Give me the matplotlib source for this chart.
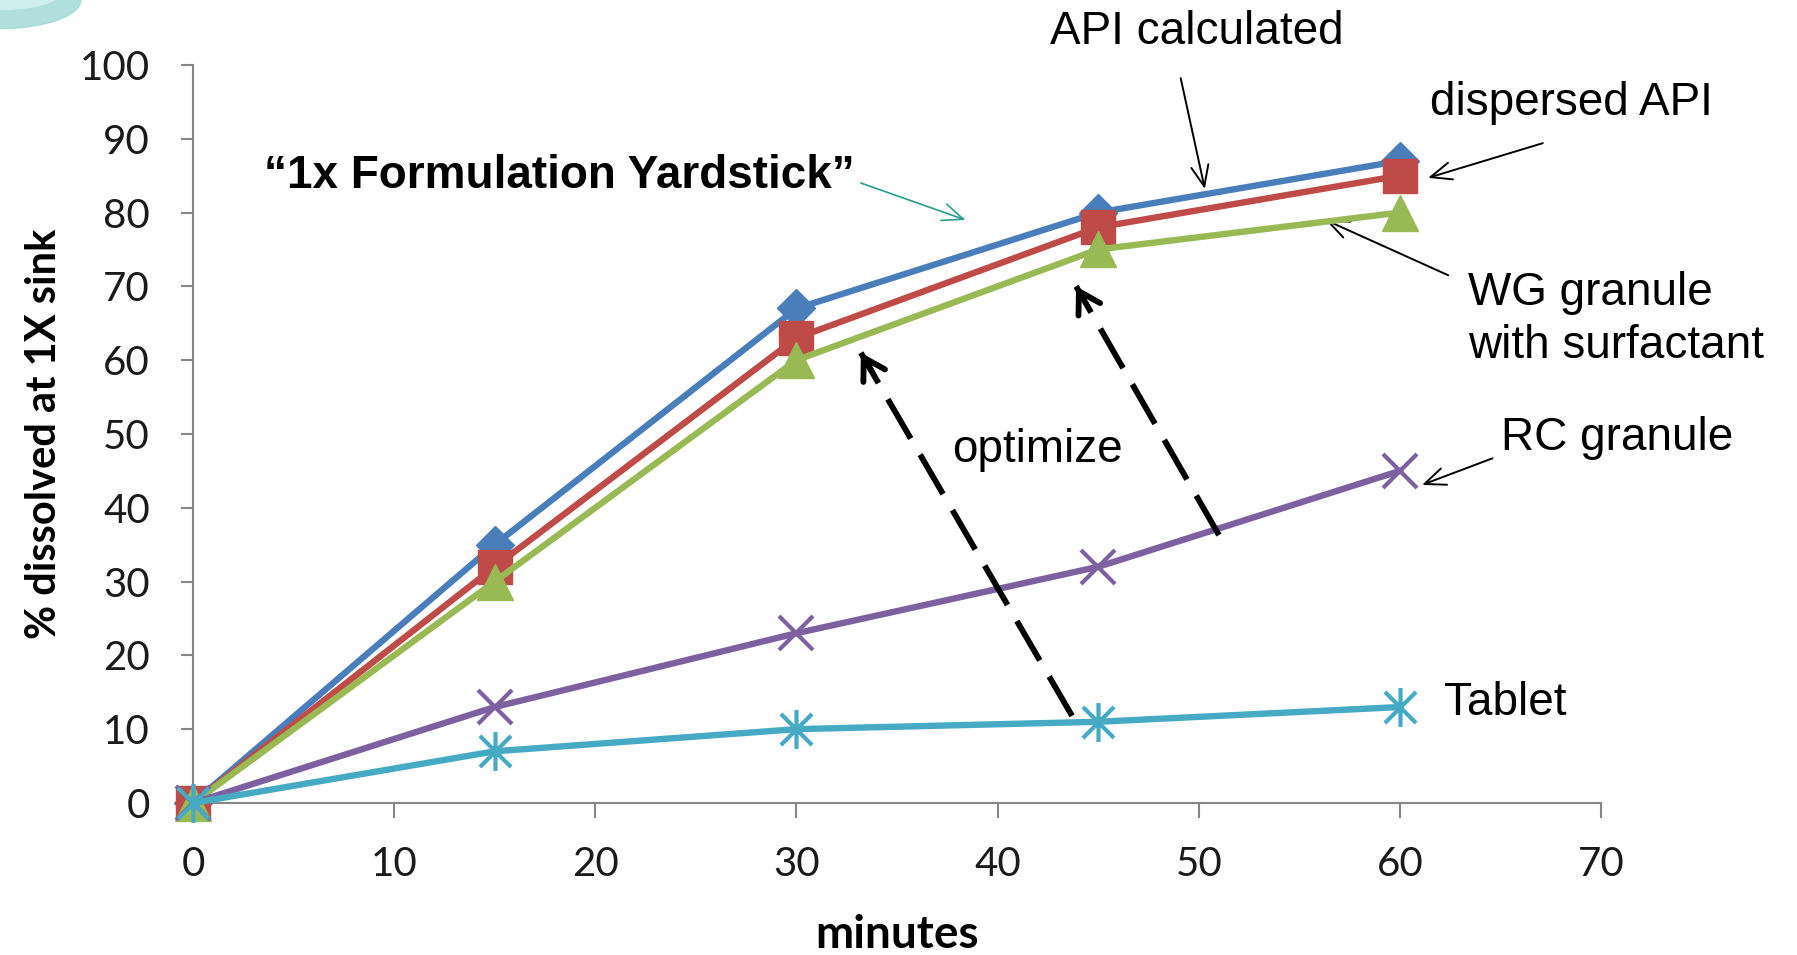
import numpy as np
import matplotlib
matplotlib.use('Agg')
import matplotlib.pyplot as plt
from matplotlib.path import Path
from matplotlib.patches import Ellipse

# dissolution data
minutes = [0, 15, 30, 45, 60]
api_calculated = [0, 35, 67, 80, 87]
dispersed_api = [0, 32, 63, 78, 85]
wg_granule = [0, 30, 60, 75, 80]
rc_granule = [0, 13, 23, 32, 45]
tablet = [0, 7, 10, 11, 13]

x_ticks = [0, 10, 20, 30, 40, 50, 60, 70]
y_ticks = [0, 10, 20, 30, 40, 50, 60, 70, 80, 90, 100]

# excel-ish "star" marker: an x with a vertical bar through it
star = Path([(-1, -1), (1, 1), (-1, 1), (1, -1), (0, -1.25), (0, 1.25)],
            [Path.MOVETO, Path.LINETO, Path.MOVETO, Path.LINETO, Path.MOVETO, Path.LINETO])

fig = plt.figure(figsize=(17.97, 9.55), dpi=100)
ax = fig.add_axes([0.1074, 0.1592, 0.7836, 0.7728])

# theme swoosh in the top-left corner
fig.patches.append(Ellipse((0.0, 1.0), 0.09, 0.06, transform=fig.transFigure,
                           color='#9ed8d6', alpha=0.8, zorder=0))
fig.patches.append(Ellipse((0.0, 1.01), 0.07, 0.04, transform=fig.transFigure,
                           color='#cdeeed', zorder=0))

lw = 4.6
ax.plot(minutes, api_calculated, color='#4a7ebb', lw=lw, marker='D', ms=19, clip_on=False, zorder=3)
ax.plot(minutes, dispersed_api, color='#be4b48', lw=lw, marker='s', ms=25, clip_on=False, zorder=4)
ax.plot(minutes, wg_granule, color='#98b954', lw=lw, marker='^', ms=26, clip_on=False, zorder=5)
ax.plot(minutes, rc_granule, color='#7d60a0', lw=lw, marker='x', ms=25, mew=3, clip_on=False, zorder=6)
ax.plot(minutes, tablet, color='#46aac5', lw=lw, marker=star, ms=28, mew=3, clip_on=False, zorder=7)

ax.set_xlim(0, 70)
ax.set_ylim(0, 100)
ax.set_xticks(x_ticks)
ax.set_yticks(y_ticks)
for s in ['top', 'right']:
    ax.spines[s].set_visible(False)
for s in ['left', 'bottom']:
    ax.spines[s].set_color('#868686')
    ax.spines[s].set_linewidth(1.5)
ax.tick_params(axis='both', colors='#868686', width=1.5, labelcolor='#1a1a1a',
               labelsize=29)
ax.tick_params(axis='x', length=11, pad=20)
ax.tick_params(axis='y', length=9, pad=22)
for lab in ax.get_xticklabels() + ax.get_yticklabels():
    lab.set_family('Lato')

ax.set_xlabel('minutes', fontsize=33, fontweight='bold', family='Lato', labelpad=22)
ax.set_ylabel('% dissolved at 1X sink', fontsize=30, fontweight='bold', family='Lato', labelpad=12)

txt = dict(fontsize=33, family='Liberation Sans', color='black')
thin = dict(arrowstyle='->,head_length=0.6,head_width=0.25', lw=1.4, color='black',
            mutation_scale=25, shrinkA=0, shrinkB=0)

ax.text(49.9, 104.5, 'API calculated', ha='center', va='center', clip_on=False, **txt)
ax.annotate('', xy=(50.3, 83.2), xytext=(49.1, 98.2), arrowprops=thin, annotation_clip=False)

ax.text(68.5, 94.8, 'dispersed API', ha='center', va='center', clip_on=False, **txt)
ax.annotate('', xy=(61.4, 84.7), xytext=(67.1, 89.4), arrowprops=thin, annotation_clip=False)

ax.text(63.4, 65.5, 'WG granule\nwith surfactant', ha='left', va='center', linespacing=1.28,
        clip_on=False, **txt)
ax.annotate('', xy=(56.3, 79.0), xytext=(62.4, 71.5), arrowprops=thin, annotation_clip=False)

ax.text(70.8, 49.5, 'RC granule', ha='center', va='center', clip_on=False, **txt)
ax.annotate('', xy=(61.1, 43.1), xytext=(64.6, 46.7), arrowprops=thin, annotation_clip=False)

ax.text(62.2, 13.5, 'Tablet', ha='left', va='center', clip_on=False, **txt)
ax.text(42.0, 47.8, 'optimize', ha='center', va='center', **txt)

ax.text(18.2, 85.0, '\u201c1x Formulation Yardstick\u201d', ha='center', va='center',
        fontsize=33, fontweight='bold', family='Liberation Sans')
teal = dict(thin)
teal['color'] = '#2a9d8f'
teal['lw'] = 1.2
ax.annotate('', xy=(38.4, 79.0), xytext=(33.2, 84.0), arrowprops=teal, annotation_clip=False)

# dashed "optimize" arrows: dashed shaft + solid open head
for (x0, y0), (x1, y1) in [((43.7, 11.8), (33.2, 61.0)), ((51.0, 36.3), (43.9, 70.0))]:
    ax.plot([x0, x1], [y0, y1], color='black', lw=4.2, dashes=(7.8, 3.2), zorder=8,
            solid_capstyle='butt', dash_capstyle='butt')
    ax.annotate('', xy=(x1, y1), xytext=(x1 + (x0 - x1) * 0.05, y1 + (y0 - y1) * 0.05),
                arrowprops=dict(arrowstyle='->,head_length=0.5,head_width=0.3', lw=4.2,
                                color='black', mutation_scale=30, shrinkA=0, shrinkB=0),
                zorder=8)

fig.savefig('out.png', dpi=100)
